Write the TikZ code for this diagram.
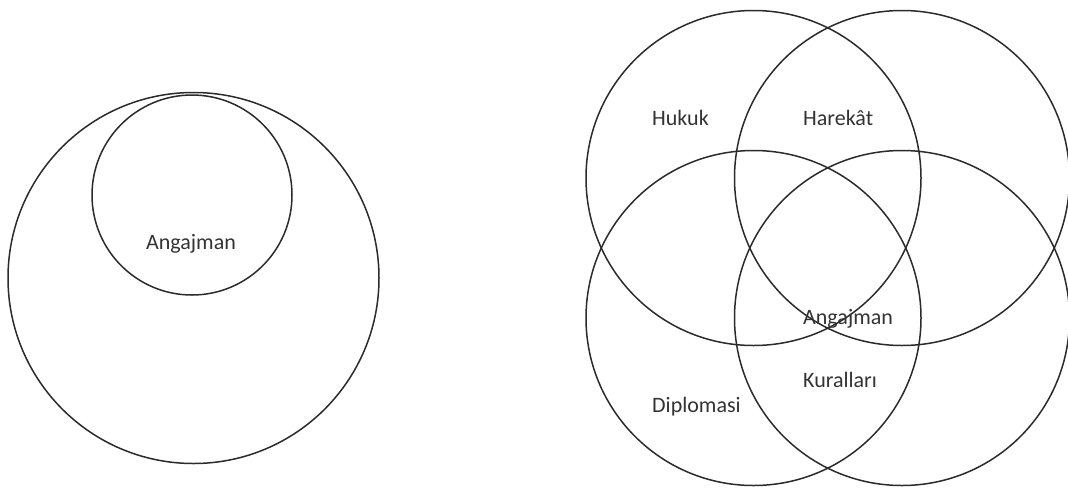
\documentclass[tikz,border=0pt]{standalone}
\usepackage{fontspec}
\setmainfont{Carlito}
\usepackage{xcolor}
\usepackage{tikz}
\definecolor{ringgray}{HTML}{2B2B2B}
\definecolor{textgray}{HTML}{333333}

\begin{document}
\begin{tikzpicture}[x=1pt, y=-1pt,
    ring/.style={circle, draw=ringgray, line width=1.5pt, inner sep=0pt},
    tag/.style={font=\fontsize{22}{22}\selectfont, text=textgray, inner sep=0pt}]
    \useasboundingbox (0,0) rectangle (1068,491);
    % left: nested circles
    \node[ring, minimum size=371pt] (outer) at (193.5,278) {};
    \node[ring, minimum size=200pt] (inner) at (192,195) {};
    \node[tag] (angL) at (191,244) {Angajman};
    % right: four overlapping circles
    \foreach \name/\cx/\cy in {tl/753.5/178, tr/902/178, bl/753.5/318, br/902/318} {
      \node[ring, minimum size=335pt] (\name) at (\cx,\cy) {};
    }
    \node[tag, anchor=west] (hukuk) at (652,118) {Hukuk};
    \node[tag, anchor=west] (harekat) at (803,118) {Harekât};
    \node[tag, anchor=west] (angR) at (803,319) {Angajman};
    \node[tag, anchor=west] (kural) at (803,380) {Kuralları};
    \node[tag, anchor=west] (diplo) at (652,407) {Diplomasi};
  \end{tikzpicture}
\end{document}
